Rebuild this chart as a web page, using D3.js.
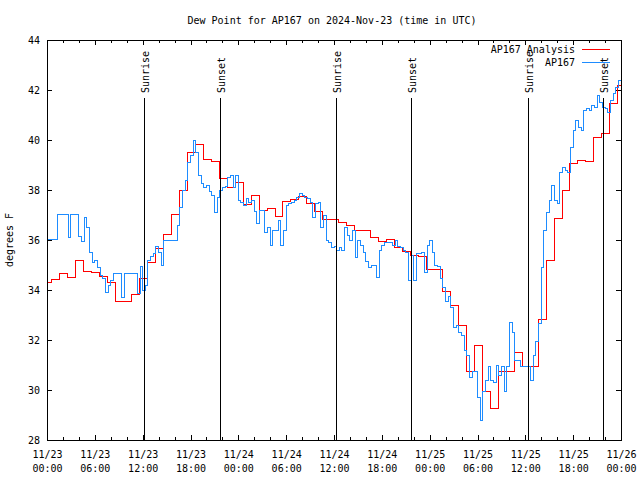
<!DOCTYPE html>
<html><head><meta charset="utf-8">
<script src="https://cdn.jsdelivr.net/npm/d3@7"></script>
<style>
body{margin:0;background:#fff}
svg{display:block;background:#fff}
text{font-family:"DejaVu Sans Mono",monospace;font-size:10px;fill:#000}
</style>
</head><body>
<svg id="chart" width="640" height="480"></svg>
<script>
// ---------------- data ----------------
const chartTitle = "Dew Point for AP167 on 2024-Nov-23 (time in UTC)";
const yAxisLabel = "degrees F";
const seriesNames = ["AP167 Analysis", "AP167"];
const startTime = Date.UTC(2024, 10, 23, 0, 0);
const endTime = Date.UTC(2024, 10, 26, 0, 0);
const yTickValues = [28, 30, 32, 34, 36, 38, 40, 42, 44];
const majorTickHours = 6;
const minorTickHours = 2;

const sunLabels = ["Sunrise", "Sunset", "Sunrise", "Sunset", "Sunrise", "Sunset"];
const sunHours = [12.2, 21.73, 36.28, 45.72, 60.37, 69.77];

// hourly analysis values; first value starts at this hour offset
const analysisFirstHour = -0.4;
const analysisValues = [
  34.31, 34.43, 34.67, 34.5, 35.2, 34.76, 34.69, 34.55, 34.29, 33.56, 33.56, 33.83,
  34.47, 35.1, 35.67, 36.23, 37.03, 37.99, 39.49, 39.83, 39.23, 39.16, 38.47, 38.1,
  38.3, 37.43, 37.78, 37.2, 37.27, 36.96, 37.55, 37.63, 37.73, 37.47, 37.13, 36.83,
  36.83, 36.69, 36.6, 36.4, 36.4, 36.11, 35.93, 36.03, 35.71, 35.53, 35.4, 35.36,
  34.83, 34.83, 33.96, 33.4, 32.6, 30.73, 31.77, 29.93, 29.27, 30.73, 30.73, 31.49,
  30.96, 30.96, 32.83, 35.2, 36.87, 38.0, 39.07, 39.17, 39.13, 40.11, 40.27, 41.45,
  42.2
];

// station observations every 20 minutes from start
const stationStepMinutes = 20;
const stationValues = [
  36.03, 36.03, 36.03,  36.03, 37.03, 37.03,  37.03, 37.03, 36.1,  37.03, 37.03, 37.03,
  36.13, 35.96, 36.9,   36.5, 35.5, 35.1,     35.2, 34.9, 34.6,    34.47, 33.9, 34.2,
  34.4, 34.67, 34.67,   34.67, 33.7, 34.67,   34.67, 34.67, 34.67, 34.67, 33.87, 34.93,
  34.0, 34.2, 35.2,     35.33, 35.47, 35.73,  35.5, 35.0, 36.0,    36.0, 36.0, 36.0,
  36.0, 36.6, 37.3,     38.0, 38.4, 39.1,     39.4, 40.0, 39.5,    38.6, 38.27, 38.1,
  38.2, 37.93, 37.8,    37.1, 37.7, 38.0,     38.1, 38.13, 38.5,   38.6, 38.1, 38.6,
  37.6, 37.5, 37.4,     37.67, 37.5, 37.6,    37.13, 36.67, 37.2,  37.2, 36.3, 36.5,
  35.8, 36.4, 36.4,     36.8, 35.8, 36.4,     37.4, 37.45, 37.5,   37.6, 37.7, 37.85,
  37.8, 37.7, 37.67,    37.5, 36.9, 37.45,    37.5, 36.5, 37.0,    36.0, 35.9, 35.7,
  35.73, 35.6, 35.7,    35.6, 36.5, 36.2,     36.0, 36.4, 35.3,    36.0, 35.8, 35.5,
  35.15, 34.9, 35.0,    35.0, 34.5, 35.6,     35.8, 35.9, 35.9,    35.9, 35.8, 36.0,
  35.73, 35.7, 35.6,    35.5, 34.4, 35.4,     34.4, 35.47, 35.47,  35.5, 34.7, 35.8,
  36.0, 35.5, 35.0,     34.93, 34.47, 34.1,   33.55, 33.73, 33.3,  32.5, 32.6, 32.3,
  32.2, 31.6, 31.4,     30.5, 30.73, 30.73,   29.7, 28.8, 29.93,   30.4, 30.93, 30.4,
  30.3, 31.0, 30.6,     30.93, 29.95, 30.93,  32.7, 32.3, 31.2,    31.2, 30.95, 30.95,
  30.95, 30.95, 30.4,   31.4, 31.93, 32.67,   34.9, 36.4, 37.1,    37.6, 38.2, 37.6,
  37.45, 38.7, 38.9,    38.8, 38.7, 39.7,     40.4, 40.8, 40.5,    40.4, 41.2, 41.27,
  41.2, 41.4, 41.3,     41.8, 41.5, 41.3,     41.25, 41.1, 41.6,   41.85, 42.1, 42.4,
  42.53
];

// ---------------- layout ----------------
const W = 640, H = 480;
const plot = {left: 47, right: 621, top: 40, bottom: 440};
const colors = {analysis: "#ff0000", station: "#1e8cff"};
const HOUR = 3600e3;

const svg = d3.select("#chart");
const x = d3.scaleUtc().domain([new Date(startTime), new Date(endTime)]).range([plot.left, plot.right]);
const y = d3.scaleLinear().domain([28, 44]).range([plot.bottom, plot.top]);

// build series
const analysisData = analysisValues.map((v, i) => ({t: new Date(startTime + (analysisFirstHour + i) * HOUR), v}));
analysisData.push({t: new Date(endTime), v: analysisValues[analysisValues.length - 1]});
const stationData = stationValues.map((v, i) => ({t: new Date(startTime + i * stationStepMinutes * 60e3), v}));

// title
svg.append("text").attr("x", 332).attr("y", 24).attr("text-anchor", "middle").text(chartTitle);

// y label
svg.append("text").attr("transform", "translate(13,240) rotate(-90)").attr("text-anchor", "middle").text(yAxisLabel);

// clip
svg.append("clipPath").attr("id", "clip").append("rect")
  .attr("x", plot.left).attr("y", plot.top).attr("width", plot.right - plot.left).attr("height", plot.bottom - plot.top);

// axes
const majorTicks = d3.utcHour.every(majorTickHours).range(new Date(startTime), new Date(endTime + 1));
const minorTicks = d3.utcHour.every(minorTickHours).range(new Date(startTime), new Date(endTime + 1))
  .filter(d => d.getUTCHours() % majorTickHours !== 0);
const fmtDate = d3.utcFormat("%m/%d"), fmtTime = d3.utcFormat("%H:%M");

function styleAxis(g) {
  g.select(".domain").remove();
  g.selectAll(".tick line").attr("stroke", "#000").attr("shape-rendering", "crispEdges");
}

const gxB = svg.append("g").attr("transform", `translate(0,${plot.bottom})`)
  .call(d3.axisBottom(x).tickValues(majorTicks).tickSize(-5).tickSizeOuter(0).tickFormat(""));
styleAxis(gxB);
gxB.selectAll(".tick text").each(function(d) {
  const t = d3.select(this);
  t.attr("dy", null).attr("y", 0);
  t.append("tspan").attr("x", 0).attr("y", 18).text(fmtDate(d));
  t.append("tspan").attr("x", 0).attr("y", 32).text(fmtTime(d));
});
const gxBm = svg.append("g").attr("transform", `translate(0,${plot.bottom})`)
  .call(d3.axisBottom(x).tickValues(minorTicks).tickSize(-3).tickSizeOuter(0).tickFormat(""));
styleAxis(gxBm);
const gxT = svg.append("g").attr("transform", `translate(0,${plot.top})`)
  .call(d3.axisTop(x).tickValues(majorTicks).tickSize(-5).tickSizeOuter(0).tickFormat(""));
styleAxis(gxT);
const gxTm = svg.append("g").attr("transform", `translate(0,${plot.top})`)
  .call(d3.axisTop(x).tickValues(minorTicks).tickSize(-3).tickSizeOuter(0).tickFormat(""));
styleAxis(gxTm);

const gyL = svg.append("g").attr("transform", `translate(${plot.left},0)`)
  .call(d3.axisLeft(y).tickValues(yTickValues).tickSize(-5).tickPadding(7).tickSizeOuter(0).tickFormat(d3.format("d")));
styleAxis(gyL);
gyL.selectAll(".tick text").attr("dy", "0.35em");
const gyR = svg.append("g").attr("transform", `translate(${plot.right},0)`)
  .call(d3.axisRight(y).tickValues(yTickValues).tickSize(-5).tickSizeOuter(0).tickFormat(""));
styleAxis(gyR);

// data lines
const line = d3.line().x(d => x(d.t)).y(d => y(d.v)).curve(d3.curveStepAfter);
const gData = svg.append("g").attr("clip-path", "url(#clip)");
gData.append("path").datum(analysisData).attr("d", line)
  .attr("fill", "none").attr("stroke", colors.analysis).attr("stroke-width", 1).attr("shape-rendering", "crispEdges");
gData.append("path").datum(stationData).attr("d", line)
  .attr("fill", "none").attr("stroke", colors.station).attr("stroke-width", 1).attr("shape-rendering", "crispEdges");

// sun events
const sunData = sunHours.map((h, i) => ({t: new Date(startTime + h * HOUR), label: sunLabels[i]}));
const gSun = svg.append("g");
gSun.selectAll("line").data(sunData).join("line")
  .attr("x1", d => Math.round(x(d.t)) + 0.5).attr("x2", d => Math.round(x(d.t)) + 0.5)
  .attr("y1", 98).attr("y2", plot.bottom)
  .attr("stroke", "#000").attr("stroke-width", 1);
gSun.selectAll("text").data(sunData).join("text")
  .attr("transform", d => `translate(${Math.round(x(d.t)) + 4.5},93) rotate(-90)`)
  .attr("text-anchor", "start").text(d => d.label);

// frame
svg.append("rect").attr("x", plot.left + 0.5).attr("y", plot.top + 0.5)
  .attr("width", plot.right - plot.left).attr("height", plot.bottom - plot.top)
  .attr("fill", "none").attr("stroke", "#000").attr("stroke-width", 1);

// legend
const legend = svg.append("g");
[[seriesNames[0], colors.analysis, 49], [seriesNames[1], colors.station, 62]].forEach(([name, c, ly]) => {
  legend.append("text").attr("x", 575).attr("y", ly + 4).attr("text-anchor", "end").text(name);
  legend.append("line").attr("x1", 582).attr("x2", 610).attr("y1", ly + 0.5).attr("y2", ly + 0.5)
    .attr("stroke", c).attr("stroke-width", 1);
});
</script>
</body></html>
